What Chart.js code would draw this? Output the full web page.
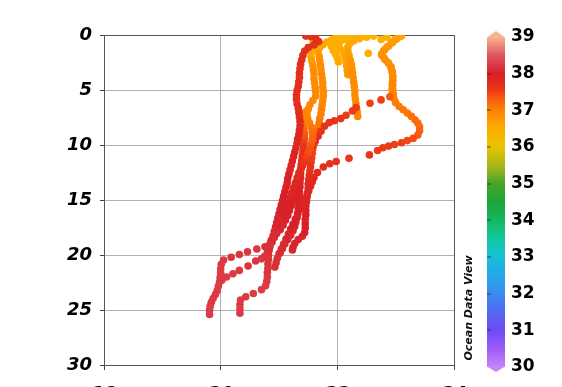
<!DOCTYPE html>
<html>
<head>
<meta charset="utf-8">
<script src="https://cdn.jsdelivr.net/npm/chart.js@4/dist/chart.umd.min.js"></script>
<style>
  html, body { margin: 0; padding: 0; background: #fff; }
  #wrap { width: 562px; height: 387px; position: relative; }
</style>
</head>
<body>
<div id="wrap"><canvas id="c" width="562" height="387"></canvas></div>
<script>
// Axis ticks
const xTicks = [18, 20, 22, 24];
const depthTicks = [0, 5, 10, 15, 20, 25, 30];
const salTicks = [30, 31, 32, 33, 34, 35, 36, 37, 38, 39];

// CTD casts: each point is [temperature, depth (m), salinity]
const cast1 = [
  [21.46,0.1,37.7],[21.55,0.15,37.7],[21.63,0.3,37.7],[21.68,0.6,37.7],[21.6,0.9,37.7],[21.5,1.15,37.7],
  [21.44,1.45,37.7],[21.41,1.85,37.7],[21.39,2.25,37.7],[21.37,2.65,37.7],[21.36,3.05,37.7],[21.35,3.45,37.7],
  [21.35,3.85,37.7],[21.34,4.25,37.7],[21.33,4.65,37.7],[21.31,5.05,37.7],[21.3,5.45,37.7],[21.3,5.85,37.7],
  [21.31,6.25,37.7],[21.33,6.65,37.75],[21.34,7.05,37.75],[21.35,7.45,37.75],[21.36,7.85,37.8],[21.36,8.25,37.8],
  [21.35,8.65,37.8],[21.34,9.05,37.85],[21.32,9.45,37.85],[21.31,9.85,37.85],[21.29,10.25,37.85],[21.27,10.65,37.9],
  [21.25,11.05,37.9],[21.23,11.45,37.9],[21.21,11.85,37.9],[21.19,12.25,37.9],[21.17,12.65,37.9],[21.15,13.05,37.95],
  [21.14,13.45,37.95],[21.12,13.85,37.95],[21.1,14.25,37.95],[21.08,14.65,38],[21.06,15.05,38],[21.04,15.45,38],
  [21.02,15.85,38],[21.0,16.25,38],[20.98,16.65,38.05],[20.96,17.05,38.05],[20.94,17.45,38.05],[20.92,17.85,38.1],
  [20.9,18.25,38.1],[20.87,18.65,38.1],[20.84,19.05,38.15],[20.76,19.25,38.15],[20.62,19.45,38.2],[20.46,19.7,38.2],
  [20.32,19.95,38.2],[20.18,20.2,38.2],[20.05,20.45,38.25],[20.01,20.85,38.25],[20.0,21.25,38.25],[20.0,21.65,38.25],
  [19.99,22.05,38.25],[19.98,22.45,38.25],[19.96,22.85,38.25],[19.94,23.25,38.25],[19.91,23.6,38.25],[19.87,23.95,38.25],
  [19.84,24.3,38.25],[19.82,24.65,38.25],[19.81,25.0,38.25],[19.81,25.4,38.25]
];
const cast2 = [
  [21.62,0.15,36.45],[21.6,0.45,36.5],[21.58,0.75,36.5],[21.56,1.15,36.5],[21.55,1.55,36.55],[21.55,1.95,36.6],
  [21.56,2.35,36.7],[21.58,2.75,36.8],[21.59,3.15,36.85],[21.6,3.55,36.9],[21.6,3.95,36.9],[21.61,4.35,36.9],
  [21.62,4.75,36.9],[21.63,5.15,36.9],[21.63,5.55,36.95],[21.58,5.95,36.95],[21.53,6.35,36.95],[21.5,6.75,37.0],
  [21.48,7.15,37.0],[21.49,7.55,37.0],[21.52,7.95,37.05],[21.55,8.35,37.1],[21.57,8.75,37.15],[21.58,9.15,37.2],
  [21.57,9.55,37.25],[21.55,9.95,37.3],[21.53,10.35,37.35],[21.5,10.75,37.4],[21.46,11.2,37.5],[21.42,11.65,37.6],
  [21.38,12.1,37.7],[21.34,12.55,37.75],[21.31,13.0,37.8],[21.28,13.45,37.85],[21.25,13.9,37.85],[21.22,14.35,37.9],
  [21.19,14.8,37.9],[21.16,15.25,37.95],[21.13,15.7,37.95],[21.1,16.15,38],[21.07,16.6,38],[21.04,17.05,38.05],
  [21.0,17.5,38.05],[20.96,17.95,38.1],[20.92,18.4,38.1],[20.88,18.85,38.1],[20.84,19.3,38.15],[20.8,19.75,38.15],
  [20.75,20.15,38.2],[20.7,20.35,38.2],[20.6,20.55,38.2],[20.47,21.0,38.2],[20.32,21.4,38.25],[20.21,21.7,38.25],
  [20.1,22.0,38.25],[20.02,22.3,38.25]
];
const cast3 = [
  [23.1,0.1,36.6],[23.02,0.35,36.65],[22.95,0.65,36.7],[22.88,1.0,36.75],[22.81,1.35,36.8],[22.76,1.7,36.8],
  [22.8,2.1,36.85],[22.87,2.5,36.85],[22.92,2.9,36.9],[22.94,3.3,36.9],[22.95,3.7,36.9],[22.95,4.1,36.9],
  [22.94,4.5,36.95],[22.94,4.9,36.95],[22.94,5.3,37.0],[22.9,5.62,37.3],[22.75,5.9,37.5],[22.56,6.2,37.5],
  [22.32,6.6,37.55],[22.26,6.9,37.55],[22.15,7.3,37.55],[22.06,7.6,37.6],[21.95,7.8,37.6],[21.86,7.97,37.6],
  [21.78,8.3,37.65],[21.72,8.75,37.65],[21.67,9.2,37.7],[21.62,9.65,37.7],[21.57,10.1,37.75],[21.52,10.55,37.75],
  [21.48,11.0,37.8],[21.44,11.45,37.8],[21.4,11.9,37.85],[21.37,12.35,37.85],[21.34,12.8,37.9],[21.32,13.25,37.9],
  [21.3,13.7,37.9],[21.28,14.15,37.95],[21.26,14.6,37.95],[21.24,15.05,37.95],[21.21,15.5,38],[21.18,15.95,38],
  [21.15,16.4,38],[21.11,16.85,38.05],[21.07,17.3,38.05],[21.02,17.7,38.05],[20.96,18.05,38.1],[20.9,18.4,38.1],
  [20.86,18.8,38.1],[20.84,19.2,38.15],[20.83,19.6,38.15],[20.82,20.0,38.15],[20.82,20.4,38.2],[20.81,20.8,38.2],
  [20.81,21.2,38.2],[20.8,21.6,38.2],[20.8,22.0,38.25],[20.79,22.4,38.25],[20.77,22.8,38.25],[20.7,23.15,38.25],
  [20.56,23.5,38.25],[20.43,23.8,38.25],[20.34,24.1,38.25],[20.33,24.5,38.25],[20.33,24.9,38.25],[20.33,25.3,38.25]
];
const cast4 = [
  [22.05,0.1,36.4],[21.97,0.25,36.4],[21.9,0.45,36.45],[21.82,0.65,36.5],[21.75,0.9,36.55],[21.69,1.2,36.6],
  [21.67,1.55,36.7],[21.69,1.95,36.8],[21.7,2.35,36.85],[21.71,2.75,36.9],[21.72,3.15,36.9],[21.73,3.55,36.9],
  [21.74,3.95,36.9],[21.75,4.35,36.9],[21.75,4.75,36.9],[21.76,5.15,36.9],[21.76,5.55,36.9],[21.75,5.95,36.95],
  [21.74,6.35,36.95],[21.73,6.75,37.0],[21.72,7.15,37.0],[21.7,7.55,37.05],[21.69,7.95,37.1],[21.67,8.35,37.1],
  [21.66,8.75,37.15],[21.64,9.15,37.2],[21.62,9.55,37.25],[21.6,9.95,37.3],[21.58,10.35,37.4],[21.57,10.75,37.45],
  [21.56,11.15,37.5],[21.55,11.55,37.55],[21.54,11.95,37.6],[21.53,12.35,37.65],[21.52,12.75,37.7],[21.51,13.15,37.75],
  [21.5,13.55,37.8],[21.5,13.95,37.85],[21.49,14.35,37.85],[21.48,14.75,37.9],[21.47,15.15,37.9],[21.46,15.55,37.9],
  [21.46,15.95,37.95],[21.46,16.35,37.95],[21.45,16.75,37.95],[21.45,17.15,38.0],[21.45,17.55,38.0],[21.44,17.95,38.0],
  [21.4,18.3,38.05],[21.33,18.6,38.05],[21.27,18.95,38.05],[21.24,19.3,38.05],[21.23,19.55,38.05]
];
const cast5 = [
  [23.07,0.15,36.6],[22.99,0.4,36.65],[22.92,0.75,36.7],[22.85,1.1,36.75],[22.79,1.45,36.8],[22.76,1.85,36.85],
  [22.82,2.25,36.9],[22.88,2.6,36.9],[22.92,2.95,36.9],[22.94,3.35,36.9],[22.95,3.75,36.95],[22.95,4.15,36.95],
  [22.95,4.55,36.95],[22.95,4.95,37.0],[22.96,5.35,37.0],[22.97,5.75,37.0],[23.0,6.15,37.05],[23.06,6.5,37.05],
  [23.13,6.8,37.1],[23.2,7.1,37.1],[23.27,7.4,37.15],[23.33,7.7,37.15],[23.38,8.0,37.2],[23.41,8.35,37.2],
  [23.41,8.7,37.25],[23.38,9.1,37.3],[23.3,9.4,37.4],[23.2,9.6,37.45],[23.1,9.8,37.5],[22.98,9.95,37.5],
  [22.88,10.1,37.55],[22.78,10.25,37.55],[22.69,10.5,37.55],[22.55,10.9,37.6],[22.2,11.2,37.6],[21.98,11.5,37.65],
  [21.87,11.7,37.65],[21.76,12.0,37.7],[21.66,12.5,37.75],[21.6,12.95,37.8],[21.57,13.35,37.85],[21.54,13.75,37.85],
  [21.51,14.15,37.9],[21.48,14.55,37.9],[21.44,14.95,37.9],[21.4,15.4,37.95],[21.36,15.85,37.95],[21.32,16.3,37.95],
  [21.28,16.75,38.0],[21.24,17.2,38.0],[21.2,17.65,38.0],[21.16,18.1,38.05],[21.12,18.55,38.05],[21.08,19.0,38.1],
  [21.04,19.45,38.1],[21.0,19.9,38.1],[20.97,20.3,38.15],[20.95,20.7,38.15],[20.93,21.1,38.15]
];
const cast6 = [
  [22.62,0.1,36.4],[22.5,0.2,36.4],[22.38,0.35,36.45],[22.28,0.55,36.5],[22.21,0.8,36.55],[22.18,1.1,36.6],
  [22.18,1.45,36.65],[22.2,1.85,36.7],[22.22,2.25,36.75],[22.24,2.65,36.8],[22.25,3.05,36.85],[22.26,3.45,36.85],
  [22.27,3.85,36.9],[22.28,4.25,36.9],[22.29,4.65,36.9],[22.3,5.05,36.9],[22.3,5.45,36.9],[22.31,5.85,36.9],
  [22.32,6.25,36.95],[22.33,6.65,36.95],[22.34,7.0,37.0],[22.35,7.4,37.0]
];
const cast7 = [
  [22.45,0.1,36.35],[22.33,0.15,36.35],[22.22,0.25,36.35],[22.12,0.4,36.4],[22.05,0.6,36.4],[22.02,0.9,36.45],
  [22.05,1.25,36.5],[22.1,1.6,36.55],[22.13,2.0,36.6],[22.15,2.4,36.65],[22.16,2.8,36.7],[22.17,3.2,36.75],
  [22.18,3.6,36.8]
];
const cast8 = [
  [22.3,0.1,36.3],[22.2,0.2,36.3],[22.1,0.3,36.3],[22.0,0.45,36.35],[21.93,0.7,36.35],[21.9,1.05,36.4],
  [21.93,1.4,36.45],[21.97,1.75,36.5],[22.0,2.1,36.5],[22.02,2.45,36.55],
  [22.75,0.4,36.4],[22.85,0.2,36.4],[22.53,1.67,36.5]
];
const cast9 = [
  [21.45,7.0,37.0],[21.43,7.4,37.05],[21.42,7.8,37.1],[21.42,8.2,37.15],[21.43,8.6,37.2],[21.44,9.0,37.3],
  [21.44,9.4,37.4],[21.43,9.8,37.5],[21.42,10.2,37.6],[21.41,10.6,37.65],[21.4,11.0,37.7],[21.39,11.4,37.75],
  [21.38,11.8,37.8],[21.37,12.2,37.85],[21.37,12.6,37.85],[21.37,13.0,37.9],[21.36,13.4,37.9],[21.36,13.8,37.9],
  [21.35,14.2,37.95],[21.35,14.6,37.95],[21.34,15.0,37.95],[21.34,15.4,38],[21.33,15.8,38],[21.32,16.2,38],
  [21.31,16.6,38],[21.29,17.0,38.05],[21.27,17.4,38.05],[21.24,17.8,38.05],[21.2,18.2,38.1],[21.15,18.6,38.1],
  [21.1,19.0,38.1],[21.06,19.4,38.1],[21.02,19.8,38.15]
];
const casts = [cast1, cast2, cast3, cast4, cast5, cast6, cast7, cast8, cast9];

// Colour scale used for the salinity colour bar and the dots
const salStops = [
  [30.0,'#c586f8'],[30.5,'#9c5cf8'],[31.0,'#6c4cf4'],[31.5,'#5468f0'],[32.0,'#3c8cf0'],[32.5,'#24a8e8'],
  [33.0,'#18c0d4'],[33.5,'#10c8a0'],[34.0,'#14b860'],[34.5,'#1ea438'],[35.0,'#48a428'],[35.5,'#a8b818'],
  [36.0,'#e8c400'],[36.5,'#ffac00'],[37.0,'#ff8400'],[37.3,'#f85c10'],[37.6,'#e83418'],[38.0,'#d82028'],
  [38.5,'#e05460'],[39.0,'#f4b490']
];
function hexToRgb(h) {
  return [parseInt(h.slice(1,3),16), parseInt(h.slice(3,5),16), parseInt(h.slice(5,7),16)];
}
function salColor(v) {
  if (v <= salStops[0][0]) return salStops[0][1];
  for (let i = 1; i < salStops.length; i++) {
    if (v <= salStops[i][0]) {
      const [v0, c0] = salStops[i-1], [v1, c1] = salStops[i];
      const t = (v - v0) / (v1 - v0);
      const a = hexToRgb(c0), b = hexToRgb(c1);
      const m = a.map((x, k) => Math.round(x + (b[k] - x) * t));
      return `rgb(${m[0]},${m[1]},${m[2]})`;
    }
  }
  return salStops[salStops.length-1][1];
}

const datasets = casts.map(c => ({
  data: c.map(p => ({ x: p[0], y: p[1], s: p[2] })),
  pointRadius: 3.8,
  pointBorderWidth: 0,
  pointBackgroundColor: ctx => salColor(ctx.raw ? ctx.raw.s : 37),
  showLine: false
}));

const labelFont = { family: 'DejaVu Sans', weight: 'bold', style: 'italic', size: 18 };

const colorBar = {
  id: 'colorBar',
  afterDraw(chart) {
    const s = chart.scales.sal;
    const ctx = chart.ctx;
    const x0 = s.left + 33, w = 18;
    const yTop = s.getPixelForValue(39), yBot = s.getPixelForValue(30);
    const g = ctx.createLinearGradient(0, yBot, 0, yTop);
    salStops.forEach(([v, c]) => g.addColorStop((v - 30) / 9, c));
    ctx.save();
    ctx.fillStyle = g;
    ctx.fillRect(x0, yTop, w, yBot - yTop);
    ctx.fillStyle = salColor(39);
    ctx.beginPath(); ctx.moveTo(x0, yTop + 0.5); ctx.lineTo(x0 + w / 2, yTop - 6); ctx.lineTo(x0 + w, yTop + 0.5); ctx.closePath(); ctx.fill();
    ctx.fillStyle = salColor(30);
    ctx.beginPath(); ctx.moveTo(x0, yBot - 0.5); ctx.lineTo(x0 + w / 2, yBot + 5); ctx.lineTo(x0 + w, yBot - 0.5); ctx.closePath(); ctx.fill();
    ctx.fillStyle = 'rgba(40,40,40,0.8)';
    salTicks.slice(1, -1).forEach(v => {
      const y = Math.round(s.getPixelForValue(v));
      ctx.fillRect(x0, y - 0.5, 4, 1);
    });
    ctx.translate(s.left + 15, 308);
    ctx.rotate(-Math.PI / 2);
    ctx.font = 'italic bold 11px "DejaVu Sans"';
    ctx.fillStyle = '#111';
    ctx.textAlign = 'center';
    ctx.textBaseline = 'middle';
    ctx.fillText('Ocean Data View', 0, 0);
    ctx.restore();
  }
};

new Chart(document.getElementById('c'), {
  type: 'scatter',
  data: { datasets },
  options: {
    responsive: false,
    animation: false,
    layout: { padding: { top: 35, left: 0, right: 0, bottom: 0 } },
    plugins: { legend: { display: false }, tooltip: { enabled: false } },
    scales: {
      x: {
        type: 'linear', min: xTicks[0], max: xTicks[xTicks.length - 1],
        afterBuildTicks: s => { s.ticks = xTicks.map(v => ({ value: v })); },
        afterFit: s => { s.height = 22; },
        ticks: { color: '#000', font: labelFont, padding: 14, maxRotation: 0 },
        grid: {
          color: c => (c.tick && (c.tick.value === 18 || c.tick.value === 24)) ? '#555' : '#b0b0b0',
          tickColor: '#444', tickLength: 5, lineWidth: 1
        },
        border: { color: '#555', width: 1 }
      },
      y: {
        type: 'linear', reverse: true, min: 0, max: 30,
        afterBuildTicks: s => { s.ticks = depthTicks.map(v => ({ value: v })); },
        afterFit: s => { s.width = 104; },
        ticks: { color: '#000', font: labelFont, padding: 8 },
        grid: {
          color: c => (c.tick && (c.tick.value === 0 || c.tick.value === 30)) ? '#555' : '#b0b0b0',
          tickColor: '#444', tickLength: 4, lineWidth: 1
        },
        border: { color: '#555', width: 1 }
      },
      sal: {
        type: 'linear', position: 'right', min: 30.055, max: 39.055,
        afterBuildTicks: s => { s.ticks = salTicks.map(v => ({ value: v })); },
        afterFit: s => { s.width = 108; },
        ticks: { color: '#000', font: { family: 'DejaVu Sans', weight: 'bold', size: 17 }, padding: 6 },
        grid: { display: false, drawTicks: true, tickLength: 51 },
        border: { display: false }
      }
    }
  },
  plugins: [colorBar]
});
</script>
</body>
</html>
